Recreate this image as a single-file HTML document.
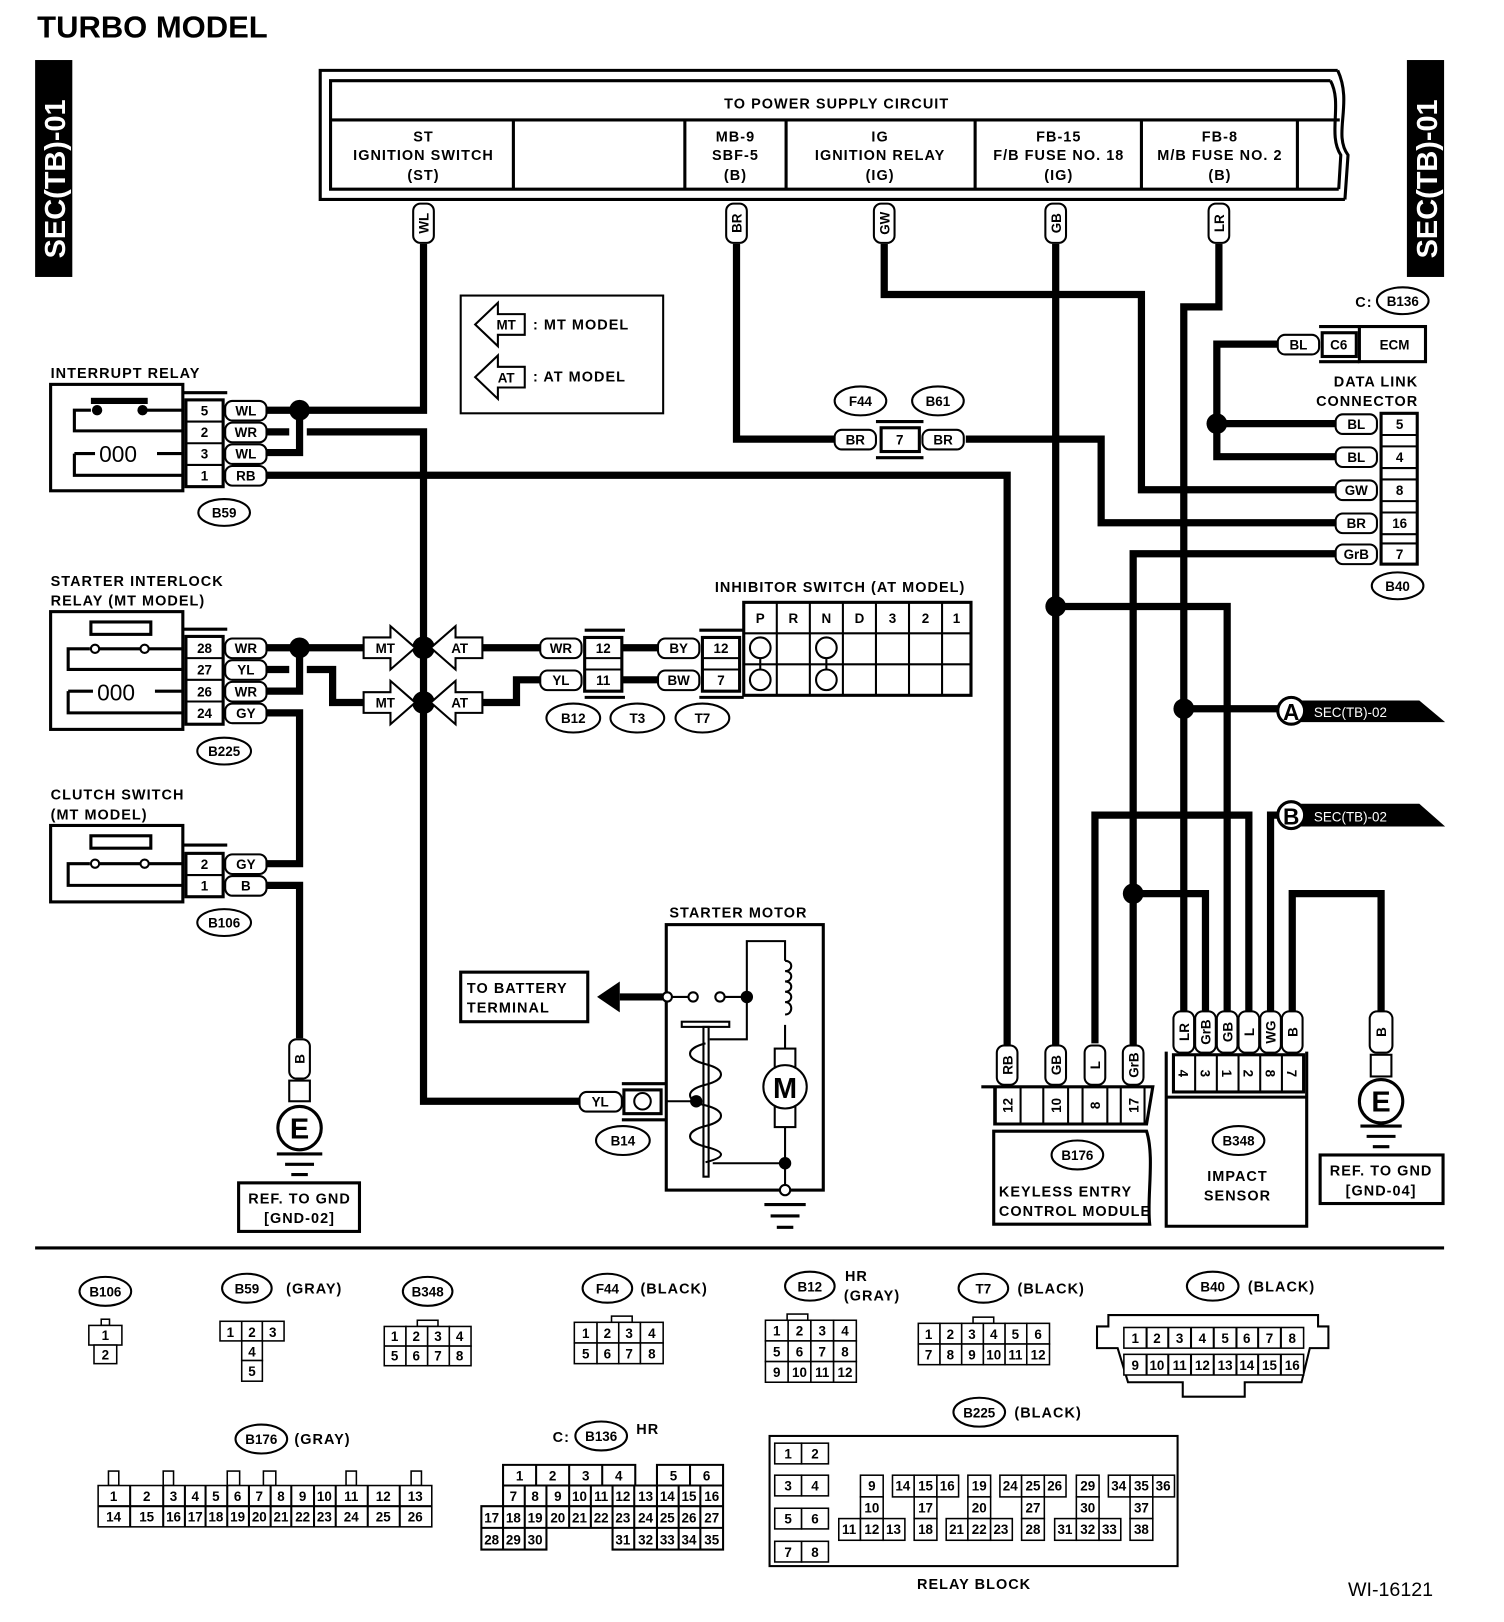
<!DOCTYPE html>
<html><head><meta charset="utf-8"><style>
html,body{margin:0;padding:0;background:#fff}
svg{display:block}
text{font-family:"Liberation Sans",sans-serif;font-weight:bold;fill:#000}
.t{font-size:14px;letter-spacing:1px}
.p{font-size:13px;text-anchor:middle}
.c{font-size:13px;text-anchor:middle;font-weight:normal}
.w{fill:none;stroke:#000;stroke-width:7;stroke-linejoin:miter}
.l{fill:none;stroke:#000;stroke-width:2}
.l3{fill:none;stroke:#000;stroke-width:3}
.pl{fill:#fff;stroke:#000;stroke-width:2}
.cell rect{fill:#fff;stroke:#000;stroke-width:1.5}
</style></head><body>
<svg width="1504" height="1622" viewBox="0 0 1456 1570" xmlns="http://www.w3.org/2000/svg">
<text x="36" y="36" style="font-size:30px">TURBO MODEL</text>
<rect x="34" y="58" width="36" height="210" fill="#000"/>
<text transform="translate(63,250) rotate(-90)" style="font-size:28px;fill:#fff">SEC(TB)-01</text>
<rect x="1362" y="58" width="36" height="210" fill="#000"/>
<text transform="translate(1391,250) rotate(-90)" style="font-size:28px;fill:#fff">SEC(TB)-01</text>

<path class="l3" d="M1295,68 H310 V193 H1302"/>
<path class="l3" d="M1295,68 C1310,100 1290,130 1305,150 L1302,193"/>
<path class="l3" d="M1288,78 H320 V183 H1296"/>
<path class="l3" d="M1288,78 C1300,100 1285,130 1298,150 L1296,183"/>
<line class="l3" x1="320" y1="116" x2="1297" y2="116"/>
<g class="l3"><line x1="497" y1="116" x2="497" y2="183"/><line x1="663" y1="116" x2="663" y2="183"/><line x1="761" y1="116" x2="761" y2="183"/><line x1="944" y1="116" x2="944" y2="183"/><line x1="1105" y1="116" x2="1105" y2="183"/><line x1="1256" y1="116" x2="1256" y2="183"/></g>
<g class="t" text-anchor="middle" style="font-size:14px">
<text x="810" y="105">TO POWER SUPPLY CIRCUIT</text>
<text x="410" y="137">ST</text><text x="410" y="155">IGNITION SWITCH</text><text x="410" y="174">(ST)</text>
<text x="712" y="137">MB-9</text><text x="712" y="155">SBF-5</text><text x="712" y="174">(B)</text>
<text x="852" y="137">IG</text><text x="852" y="155">IGNITION RELAY</text><text x="852" y="174">(IG)</text>
<text x="1025" y="137">FB-15</text><text x="1025" y="155">F/B FUSE NO. 18</text><text x="1025" y="174">(IG)</text>
<text x="1181" y="137">FB-8</text><text x="1181" y="155">M/B FUSE NO. 2</text><text x="1181" y="174">(B)</text>
</g>

<path class="w" d="M410,236 V397 H258"/>
<path class="w" d="M290,397 V438 H258"/>
<path class="w" d="M258,418 H280 M297,418 H410 V1066 H561"/>
<path class="w" d="M258,460 H975 V1013"/>
<path class="w" d="M713,236 V425 H810 M935,425 H1066 V506 H1293"/>
<path class="w" d="M856,236 V285 H1105 V474 H1293"/>
<path class="w" d="M1022,236 V1013 M1022,587 H1188 V979"/>
<path class="w" d="M1180,236 V297 H1146 V979 M1146,686 H1240"/>
<path class="w" d="M1237,333 H1178 V442 H1293 M1178,410 H1293"/>
<path class="w" d="M1293,536 H1097 V1013 M1097,865 H1167 V979"/>
<path class="w" d="M1060,1010 V789 H1209 V979"/>
<path class="w" d="M1230,979 V789 H1240"/>
<path class="w" d="M1251,979 V865 H1337 V979"/>
<path class="w" d="M258,627 H352 M290,627 V669 H258"/>
<path class="w" d="M258,648 H280 M297,648 H322 V680 H352"/>
<path class="w" d="M258,690 H290 V836 H258"/>
<path class="w" d="M258,857 H290 V1005"/>
<path class="w" d="M467,627 H523 M467,680 H500 V658 H523 M603,627 H637 M603,658 H637"/>
<g fill="#000">
<circle cx="290" cy="397" r="10"/><circle cx="290" cy="627" r="10"/>
<circle cx="410" cy="627" r="11"/><circle cx="410" cy="680" r="11"/>
<circle cx="1022" cy="587" r="10"/><circle cx="1146" cy="686" r="10"/>
<circle cx="1178" cy="410" r="10"/><circle cx="1097" cy="865" r="10"/>
</g>

<g>
<g transform="translate(410,216) rotate(-90)"><rect class="pl" x="-19" y="-10" width="38" height="20" rx="7"/><text class="p" y="5">WL</text></g>
<g transform="translate(713,216) rotate(-90)"><rect class="pl" x="-19" y="-10" width="38" height="20" rx="7"/><text class="p" y="5">BR</text></g>
<g transform="translate(856,216) rotate(-90)"><rect class="pl" x="-19" y="-10" width="38" height="20" rx="7"/><text class="p" y="5">GW</text></g>
<g transform="translate(1022,216) rotate(-90)"><rect class="pl" x="-19" y="-10" width="38" height="20" rx="7"/><text class="p" y="5">GB</text></g>
<g transform="translate(1180,216) rotate(-90)"><rect class="pl" x="-19" y="-10" width="38" height="20" rx="7"/><text class="p" y="5">LR</text></g>
</g>

<rect class="l" x="446" y="286" width="196" height="114"/>
<polygon class="pl" points="460,314 482,293 482,304 508,304 508,324 482,324 482,335"/><text class="p" x="490" y="319">MT</text>
<polygon class="pl" points="460,365 482,344 482,355 508,355 508,375 482,375 482,386"/><text class="p" x="490" y="370">AT</text>
<text class="t" x="516" y="319">: MT MODEL</text><text class="t" x="516" y="369">: AT MODEL</text>

<text class="t" x="49" y="366">INTERRUPT RELAY</text>
<rect class="l3" x="49" y="372" width="128" height="103"/>
<path class="l3" d="M177,380 H220"/>
<rect class="l3" x="180" y="387" width="36" height="84"/>
<g class="l"><line x1="180" y1="408" x2="216" y2="408"/><line x1="180" y1="429" x2="216" y2="429"/><line x1="180" y1="450" x2="216" y2="450"/></g>
<g class="p"><text x="198" y="402">5</text><text x="198" y="423">2</text><text x="198" y="444">3</text><text x="198" y="465">1</text></g>
<path class="l3" d="M177,417 H72 V397 H88 M90,388 H142 M140,397 H177"/>
<rect x="88" y="385" width="55" height="6" fill="#000"/><circle cx="94" cy="397" r="5"/><circle cx="138" cy="397" r="5"/>
<path class="l3" d="M177,439 H152 M72,439 V460 H177 M72,439 H92"/>
<text x="96" y="447" style="font-size:22px;font-weight:normal">000</text>
<g><rect class="pl" x="218" y="388" width="40" height="19" rx="7"/><text class="p" x="238" y="402">WL</text>
<rect class="pl" x="218" y="409" width="40" height="19" rx="7"/><text class="p" x="238" y="423">WR</text>
<rect class="pl" x="218" y="430" width="40" height="19" rx="7"/><text class="p" x="238" y="444">WL</text>
<rect class="pl" x="218" y="451" width="40" height="19" rx="7"/><text class="p" x="238" y="465">RB</text></g>
<ellipse class="l" cx="217" cy="496" rx="25" ry="13"/><text class="p" x="217" y="501">B59</text>

<text class="t" x="49" y="567">STARTER INTERLOCK</text><text class="t" x="49" y="586">RELAY (MT MODEL)</text>
<rect class="l3" x="49" y="592" width="128" height="114"/>
<path class="l3" d="M177,609 H220"/>
<rect class="l3" x="180" y="616" width="36" height="85"/>
<g class="l"><line x1="180" y1="637" x2="216" y2="637"/><line x1="180" y1="658" x2="216" y2="658"/><line x1="180" y1="679" x2="216" y2="679"/></g>
<g class="p"><text x="198" y="632">28</text><text x="198" y="653">27</text><text x="198" y="674">26</text><text x="198" y="695">24</text></g>
<rect class="l3" x="88" y="602" width="58" height="12"/>
<path class="l3" d="M177,628 H144 M136,628 H96 M87,628 H66 V648 H177"/>
<circle class="l" cx="92" cy="628" r="4"/><circle class="l" cx="140" cy="628" r="4"/>
<path class="l3" d="M177,669 H150 M66,669 V690 H177 M66,669 H90"/>
<text x="94" y="678" style="font-size:22px;font-weight:normal">000</text>
<g><rect class="pl" x="218" y="618" width="40" height="19" rx="7"/><text class="p" x="238" y="632">WR</text>
<rect class="pl" x="218" y="639" width="40" height="19" rx="7"/><text class="p" x="238" y="653">YL</text>
<rect class="pl" x="218" y="660" width="40" height="19" rx="7"/><text class="p" x="238" y="674">WR</text>
<rect class="pl" x="218" y="681" width="40" height="19" rx="7"/><text class="p" x="238" y="695">GY</text></g>
<ellipse class="l" cx="217" cy="727" rx="26" ry="13"/><text class="p" x="217" y="732">B225</text>

<text class="t" x="49" y="774">CLUTCH SWITCH</text><text class="t" x="49" y="793">(MT MODEL)</text>
<rect class="l3" x="49" y="799" width="128" height="74"/>
<path class="l3" d="M177,818 H220"/>
<rect class="l3" x="180" y="826" width="36" height="42"/><line class="l" x1="180" y1="847" x2="216" y2="847"/>
<g class="p"><text x="198" y="841">2</text><text x="198" y="862">1</text></g>
<rect class="l3" x="88" y="809" width="58" height="12"/>
<path class="l3" d="M177,836 H144 M136,836 H96 M87,836 H66 V857 H177"/>
<circle class="l" cx="92" cy="836" r="4"/><circle class="l" cx="140" cy="836" r="4"/>
<rect class="pl" x="218" y="827" width="40" height="19" rx="7"/><text class="p" x="238" y="841">GY</text>
<rect class="pl" x="218" y="848" width="40" height="19" rx="7"/><text class="p" x="238" y="862">B</text>
<ellipse class="l" cx="217" cy="893" rx="26" ry="13"/><text class="p" x="217" y="898">B106</text>

<g transform="translate(290,1025) rotate(-90)"><rect class="pl" x="-19" y="-10" width="38" height="20" rx="7"/><text class="p" y="5">B</text></g>
<rect class="pl" x="280" y="1046" width="20" height="20"/>
<circle cx="290" cy="1092" r="21" fill="#fff" stroke="#000" stroke-width="3"/>
<text x="290" y="1102" text-anchor="middle" style="font-size:28px">E</text>
<g class="l3"><line x1="268" y1="1117" x2="312" y2="1117"/><line x1="276" y1="1127" x2="304" y2="1127"/><line x1="282" y1="1137" x2="298" y2="1137"/></g>
<rect class="l3" x="231" y="1145" width="117" height="47"/>
<text class="t" x="290" y="1165" text-anchor="middle">REF. TO GND</text><text class="t" x="290" y="1184" text-anchor="middle">[GND-02]</text>

<g>
<polygon class="pl" points="352,617 378,617 378,606 402,627 378,648 378,637 352,637"/><text class="p" x="373" y="632">MT</text>
<polygon class="pl" points="467,617 441,617 441,606 417,627 441,648 441,637 467,637"/><text class="p" x="445" y="632">AT</text>
<polygon class="pl" points="352,670 378,670 378,659 402,680 378,701 378,690 352,690"/><text class="p" x="373" y="685">MT</text>
<polygon class="pl" points="467,670 441,670 441,659 417,680 441,701 441,690 467,690"/><text class="p" x="445" y="685">AT</text>
</g>

<rect class="pl" x="523" y="618" width="40" height="19" rx="7"/><text class="p" x="543" y="632">WR</text>
<rect class="pl" x="523" y="649" width="40" height="19" rx="7"/><text class="p" x="543" y="663">YL</text>
<rect class="l3" x="566" y="617" width="36" height="52"/><line class="l" x1="566" y1="637" x2="602" y2="637"/><line class="l" x1="566" y1="648" x2="602" y2="648"/>
<text class="p" x="584" y="632">12</text><text class="p" x="584" y="663">11</text>
<path class="l3" d="M566,610 H605 M566,675 H605"/>
<rect class="pl" x="637" y="618" width="40" height="19" rx="7"/><text class="p" x="657" y="632">BY</text>
<rect class="pl" x="637" y="649" width="40" height="19" rx="7"/><text class="p" x="657" y="663">BW</text>
<rect class="l3" x="680" y="617" width="36" height="52"/><line class="l" x1="680" y1="637" x2="716" y2="637"/><line class="l" x1="680" y1="648" x2="716" y2="648"/>
<text class="p" x="698" y="632">12</text><text class="p" x="698" y="663">7</text>
<path class="l3" d="M677,610 H720 M677,675 H720"/>
<ellipse class="l" cx="555" cy="695" rx="26" ry="14"/><text class="p" x="555" y="700">B12</text>
<ellipse class="l" cx="617" cy="695" rx="26" ry="14"/><text class="p" x="617" y="700">T3</text>
<ellipse class="l" cx="680" cy="695" rx="26" ry="14"/><text class="p" x="680" y="700">T7</text>

<text class="t" x="692" y="573">INHIBITOR SWITCH (AT MODEL)</text>
<rect class="l3" x="720" y="583" width="220" height="90"/>
<g class="l"><line x1="720" y1="613" x2="940" y2="613"/><line x1="720" y1="643" x2="940" y2="643"/>
<line x1="752" y1="583" x2="752" y2="673"/><line x1="784" y1="583" x2="784" y2="673"/><line x1="816" y1="583" x2="816" y2="673"/><line x1="848" y1="583" x2="848" y2="673"/><line x1="880" y1="583" x2="880" y2="673"/><line x1="912" y1="583" x2="912" y2="673"/></g>
<g class="p"><text x="736" y="603">P</text><text x="768" y="603">R</text><text x="800" y="603">N</text><text x="832" y="603">D</text><text x="864" y="603">3</text><text x="896" y="603">2</text><text x="926" y="603">1</text></g>
<g class="l"><circle cx="736" cy="627" r="10"/><circle cx="736" cy="658" r="10"/><circle cx="800" cy="627" r="10"/><circle cx="800" cy="658" r="10"/><line x1="736" y1="637" x2="736" y2="648"/><line x1="800" y1="637" x2="800" y2="648"/></g>

<ellipse class="l" cx="833" cy="388" rx="25" ry="14"/><text class="p" x="833" y="393">F44</text>
<ellipse class="l" cx="908" cy="388" rx="25" ry="14"/><text class="p" x="908" y="393">B61</text>
<rect class="pl" x="808" y="416" width="40" height="19" rx="7"/><text class="p" x="828" y="430">BR</text>
<rect class="l3" x="853" y="414" width="37" height="23"/><text class="p" x="871" y="430">7</text>
<path class="l3" d="M848,408 H894 M848,443 H894"/>
<rect class="pl" x="893" y="416" width="40" height="19" rx="7"/><text class="p" x="913" y="430">BR</text>

<text class="t" x="648" y="888">STARTER MOTOR</text>
<rect class="l3" x="645" y="895" width="152" height="257"/>
<rect class="l3" x="446" y="941" width="123" height="48"/>
<text class="t" x="452" y="961">TO BATTERY</text><text class="t" x="452" y="980">TERMINAL</text>
<path class="w" d="M600,965 H646"/><polygon points="578,965 600,950 600,980" fill="#000"/>
<path class="l" d="M646,965 H671 M697,965 H723 M723,965 V911 H760 V930 M760,992 V1015 M723,965 V1006 H687"/>
<path class="l" d="M760,930 c8,0 8,10 0,10 c8,0 8,10 0,10 c8,0 8,10 0,10 c8,0 8,10 0,10 c8,0 8,12 0,12"/>
<circle cx="646" cy="965" r="4.5" fill="#fff" stroke="#000" stroke-width="2"/><circle cx="671" cy="965" r="4.5" fill="#fff" stroke="#000" stroke-width="2"/><circle cx="697" cy="965" r="4.5" fill="#fff" stroke="#000" stroke-width="2"/><circle cx="723" cy="965" r="6" fill="#000"/>
<rect class="l" x="750" y="1015" width="20" height="76"/>
<circle cx="760" cy="1052" r="21" fill="#fff" stroke="#000" stroke-width="2"/><text x="760" y="1063" text-anchor="middle" style="font-size:28px">M</text>
<path class="l" d="M760,1091 V1152 M690,1126 H760"/>
<circle cx="760" cy="1126" r="6" fill="#000"/><circle cx="760" cy="1152" r="5" fill="#fff" stroke="#000" stroke-width="2"/>
<g class="l3"><line x1="740" y1="1166" x2="780" y2="1166"/><line x1="746" y1="1177" x2="774" y2="1177"/><line x1="752" y1="1188" x2="768" y2="1188"/></g>
<rect class="l" x="660" y="989" width="46" height="5"/><rect class="l" x="681" y="994" width="5" height="145"/>
<path class="l" d="M683,1010 c-20,5 -20,15 0,20 c20,5 20,15 0,20 c-20,5 -20,15 0,20 c20,5 20,15 0,20 c-20,5 -20,15 0,20 c20,5 20,10 0,15"/>
<path class="l" d="M645,1066 H674"/><circle cx="674" cy="1066" r="6" fill="#000"/>
<rect class="pl" x="561" y="1057" width="41" height="19" rx="7"/><text class="p" x="581" y="1071">YL</text>
<rect class="l3" x="604" y="1055" width="36" height="23"/><circle class="l" cx="622" cy="1066" r="8"/>
<path class="l3" d="M602,1049 H645 M602,1084 H645"/>
<ellipse class="l" cx="603" cy="1104" rx="26" ry="14"/><text class="p" x="603" y="1109">B14</text>

<text class="t" x="1312" y="297">C:</text>
<ellipse class="l" cx="1358" cy="291" rx="25" ry="13"/><text class="p" x="1358" y="296">B136</text>
<rect class="pl" x="1237" y="324" width="40" height="19" rx="7"/><text class="p" x="1257" y="338">BL</text>
<rect class="l3" x="1280" y="322" width="33" height="23"/><text class="p" x="1296" y="338">C6</text>
<rect class="l3" x="1316" y="316" width="64" height="34"/><text class="p" x="1350" y="338">ECM</text>
<path class="l3" d="M1277,316 H1316 M1277,350 H1316"/>
<text class="t" x="1373" y="374" text-anchor="end">DATA LINK</text><text class="t" x="1373" y="393" text-anchor="end">CONNECTOR</text>
<rect class="l3" x="1337" y="400" width="35" height="146"/>
<g class="l"><line x1="1337" y1="421" x2="1372" y2="421"/><line x1="1337" y1="432" x2="1372" y2="432"/><line x1="1337" y1="453" x2="1372" y2="453"/><line x1="1337" y1="464" x2="1372" y2="464"/><line x1="1337" y1="485" x2="1372" y2="485"/><line x1="1337" y1="496" x2="1372" y2="496"/><line x1="1337" y1="517" x2="1372" y2="517"/><line x1="1337" y1="526" x2="1372" y2="526"/></g>
<g class="p"><text x="1355" y="415">5</text><text x="1355" y="447">4</text><text x="1355" y="479">8</text><text x="1355" y="511">16</text><text x="1355" y="541">7</text></g>
<g><rect class="pl" x="1293" y="401" width="40" height="19" rx="7"/><text class="p" x="1313" y="415">BL</text>
<rect class="pl" x="1293" y="433" width="40" height="19" rx="7"/><text class="p" x="1313" y="447">BL</text>
<rect class="pl" x="1293" y="465" width="40" height="19" rx="7"/><text class="p" x="1313" y="479">GW</text>
<rect class="pl" x="1293" y="497" width="40" height="19" rx="7"/><text class="p" x="1313" y="511">BR</text>
<rect class="pl" x="1293" y="527" width="40" height="19" rx="7"/><text class="p" x="1313" y="541">GrB</text></g>
<ellipse class="l" cx="1353" cy="567" rx="25" ry="13"/><text class="p" x="1353" y="572">B40</text>

<polygon points="1255,678 1374,678 1399,699 1255,699" fill="#000"/>
<circle cx="1250" cy="688" r="13" fill="#fff" stroke="#000" stroke-width="3"/><text x="1250" y="697" text-anchor="middle" style="font-size:22px">A</text>
<text x="1272" y="694" style="font-size:13px;fill:#fff;font-weight:normal">SEC(TB)-02</text>
<polygon points="1255,778 1374,778 1399,800 1255,800" fill="#000"/>
<circle cx="1250" cy="789" r="13" fill="#fff" stroke="#000" stroke-width="3"/><text x="1250" y="798" text-anchor="middle" style="font-size:22px">B</text>
<text x="1272" y="795" style="font-size:13px;fill:#fff;font-weight:normal">SEC(TB)-02</text>

<g transform="translate(975,1031) rotate(-90)"><rect class="pl" x="-19" y="-10" width="38" height="20" rx="7"/><text class="p" y="5">RB</text></g>
<g transform="translate(1022,1031) rotate(-90)"><rect class="pl" x="-19" y="-10" width="38" height="20" rx="7"/><text class="p" y="5">GB</text></g>
<g transform="translate(1060,1031) rotate(-90)"><rect class="pl" x="-19" y="-10" width="38" height="20" rx="7"/><text class="p" y="5">L</text></g>
<g transform="translate(1097,1031) rotate(-90)"><rect class="pl" x="-19" y="-10" width="38" height="20" rx="7"/><text class="p" y="5">GrB</text></g>
<path class="l3" d="M950,1052 H1116 L1110,1088 H963 V1052"/>
<g class="l"><line x1="964" y1="1052" x2="964" y2="1088"/><line x1="988" y1="1052" x2="988" y2="1088"/><line x1="1010" y1="1052" x2="1010" y2="1088"/><line x1="1034" y1="1052" x2="1034" y2="1088"/><line x1="1048" y1="1052" x2="1048" y2="1088"/><line x1="1072" y1="1052" x2="1072" y2="1088"/><line x1="1085" y1="1052" x2="1085" y2="1088"/><line x1="1108" y1="1052" x2="1108" y2="1088"/></g>
<g class="p"><text transform="translate(980,1070) rotate(-90)">12</text><text transform="translate(1027,1070) rotate(-90)">10</text><text transform="translate(1065,1070) rotate(-90)">8</text><text transform="translate(1102,1070) rotate(-90)">17</text></g>
<path class="l3" d="M962,1095 H1110 C1118,1120 1110,1160 1113,1185 H962 Z"/>
<ellipse class="l" cx="1043" cy="1118" rx="25" ry="14"/><text class="p" x="1043" y="1123">B176</text>
<text class="t" x="967" y="1158">KEYLESS ENTRY</text><text class="t" x="967" y="1177">CONTROL MODULE</text>

<g>
<g transform="translate(1146,999) rotate(-90)"><rect class="pl" x="-20" y="-10" width="40" height="20" rx="7"/><text class="p" y="5">LR</text></g>
<g transform="translate(1167,999) rotate(-90)"><rect class="pl" x="-20" y="-10" width="40" height="20" rx="7"/><text class="p" y="5">GrB</text></g>
<g transform="translate(1188,999) rotate(-90)"><rect class="pl" x="-20" y="-10" width="40" height="20" rx="7"/><text class="p" y="5">GB</text></g>
<g transform="translate(1209,999) rotate(-90)"><rect class="pl" x="-20" y="-10" width="40" height="20" rx="7"/><text class="p" y="5">L</text></g>
<g transform="translate(1230,999) rotate(-90)"><rect class="pl" x="-20" y="-10" width="40" height="20" rx="7"/><text class="p" y="5">WG</text></g>
<g transform="translate(1251,999) rotate(-90)"><rect class="pl" x="-20" y="-10" width="40" height="20" rx="7"/><text class="p" y="5">B</text></g>
</g>
<rect class="l3" x="1136" y="1021" width="126" height="36"/>
<g class="l"><line x1="1157" y1="1021" x2="1157" y2="1057"/><line x1="1178" y1="1021" x2="1178" y2="1057"/><line x1="1199" y1="1021" x2="1199" y2="1057"/><line x1="1220" y1="1021" x2="1220" y2="1057"/><line x1="1241" y1="1021" x2="1241" y2="1057"/></g>
<g class="p"><text transform="translate(1146,1039) rotate(90)" y="5">4</text><text transform="translate(1167,1039) rotate(90)" y="5">3</text><text transform="translate(1188,1039) rotate(90)" y="5">1</text><text transform="translate(1209,1039) rotate(90)" y="5">2</text><text transform="translate(1230,1039) rotate(90)" y="5">8</text><text transform="translate(1251,1039) rotate(90)" y="5">7</text></g>
<path class="l3" d="M1129,1018 V1187 H1265 V1018 M1129,1062 H1265"/>
<ellipse class="l" cx="1199" cy="1104" rx="25" ry="14"/><text class="p" x="1199" y="1109">B348</text>
<text class="t" x="1198" y="1143" text-anchor="middle">IMPACT</text><text class="t" x="1198" y="1162" text-anchor="middle">SENSOR</text>

<g transform="translate(1337,999) rotate(-90)"><rect class="pl" x="-20" y="-11" width="40" height="22" rx="7"/><text class="p" y="5">B</text></g>
<rect class="pl" x="1327" y="1021" width="20" height="21"/>
<circle cx="1337" cy="1066" r="21" fill="#fff" stroke="#000" stroke-width="3"/><text x="1337" y="1076" text-anchor="middle" style="font-size:28px">E</text>
<g class="l3"><line x1="1317" y1="1090" x2="1357" y2="1090"/><line x1="1323" y1="1100" x2="1351" y2="1100"/><line x1="1329" y1="1110" x2="1345" y2="1110"/></g>
<rect class="l3" x="1278" y="1118" width="119" height="47"/>
<text class="t" x="1337" y="1138" text-anchor="middle">REF. TO GND</text><text class="t" x="1337" y="1157" text-anchor="middle">[GND-04]</text>

<line x1="34" y1="1208" x2="1398" y2="1208" stroke="#000" stroke-width="3"/>

<g class="l">
<ellipse cx="102" cy="1250" rx="25" ry="14"/><ellipse cx="239" cy="1247" rx="24" ry="14"/><ellipse cx="414" cy="1250" rx="24" ry="14"/><ellipse cx="588" cy="1247" rx="24" ry="14"/><ellipse cx="784" cy="1245" rx="24" ry="14"/><ellipse cx="952" cy="1247" rx="24" ry="14"/><ellipse cx="1174" cy="1245" rx="25" ry="14"/><ellipse cx="253" cy="1393" rx="25" ry="14"/><ellipse cx="582" cy="1390" rx="25" ry="14"/><ellipse cx="948" cy="1367" rx="25" ry="14"/>
</g>
<g class="p"><text x="102" y="1255">B106</text><text x="239" y="1252">B59</text><text x="414" y="1255">B348</text><text x="588" y="1252">F44</text><text x="784" y="1250">B12</text><text x="952" y="1252">T7</text><text x="1174" y="1250">B40</text><text x="253" y="1398">B176</text><text x="582" y="1395">B136</text><text x="948" y="1372">B225</text></g>
<g class="t" style="font-size:14px"><text x="277" y="1252">(GRAY)</text><text x="620" y="1252">(BLACK)</text><text x="818" y="1240">HR</text><text x="817" y="1259">(GRAY)</text><text x="985" y="1252">(BLACK)</text><text x="1208" y="1250">(BLACK)</text><text x="285" y="1398">(GRAY)</text><text x="616" y="1388">HR</text><text x="535" y="1396">C:</text><text x="982" y="1372">(BLACK)</text></g>

<g class="cell">
<rect x="98" y="1277" width="8" height="6"/><rect x="86" y="1283" width="32" height="19"/><rect x="91" y="1302" width="22" height="18"/>
<rect x="213" y="1279" width="21" height="19"/><rect x="234" y="1279" width="20" height="19"/><rect x="254" y="1279" width="21" height="19"/>
<rect x="234" y="1298" width="20" height="19"/><rect x="234" y="1317" width="20" height="20"/>
<rect x="404" y="1278" width="20" height="6"/>
<rect x="372" y="1284" width="21" height="19"/><rect x="393" y="1284" width="21" height="19"/><rect x="414" y="1284" width="21" height="19"/><rect x="435" y="1284" width="21" height="19"/>
<rect x="372" y="1303" width="21" height="19"/><rect x="393" y="1303" width="21" height="19"/><rect x="414" y="1303" width="21" height="19"/><rect x="435" y="1303" width="21" height="19"/>
<rect x="592" y="1274" width="20" height="6"/>
<rect x="556" y="1280" width="22" height="20"/><rect x="578" y="1280" width="21" height="20"/><rect x="599" y="1280" width="21" height="20"/><rect x="620" y="1280" width="22" height="20"/>
<rect x="556" y="1300" width="22" height="20"/><rect x="578" y="1300" width="21" height="20"/><rect x="599" y="1300" width="21" height="20"/><rect x="620" y="1300" width="22" height="20"/>
<rect x="762" y="1272" width="20" height="6"/>
<rect x="741" y="1278" width="22" height="20"/><rect x="763" y="1278" width="22" height="20"/><rect x="785" y="1278" width="22" height="20"/><rect x="807" y="1278" width="22" height="20"/>
<rect x="741" y="1298" width="22" height="20"/><rect x="763" y="1298" width="22" height="20"/><rect x="785" y="1298" width="22" height="20"/><rect x="807" y="1298" width="22" height="20"/>
<rect x="741" y="1318" width="22" height="20"/><rect x="763" y="1318" width="22" height="20"/><rect x="785" y="1318" width="22" height="20"/><rect x="807" y="1318" width="22" height="20"/>
<rect x="942" y="1275" width="20" height="6"/>
<rect x="889" y="1281" width="21" height="20"/><rect x="910" y="1281" width="21" height="20"/><rect x="931" y="1281" width="21" height="20"/><rect x="952" y="1281" width="21" height="20"/><rect x="973" y="1281" width="21" height="20"/><rect x="994" y="1281" width="22" height="20"/>
<rect x="889" y="1301" width="21" height="20"/><rect x="910" y="1301" width="21" height="20"/><rect x="931" y="1301" width="21" height="20"/><rect x="952" y="1301" width="21" height="20"/><rect x="973" y="1301" width="21" height="20"/><rect x="994" y="1301" width="22" height="20"/>
</g>
<path class="l" d="M1073,1273 H1276 V1284 H1286 V1305 H1268 L1260,1338 H1205 V1352 H1145 V1338 H1092 L1082,1305 H1062 V1284 H1073 Z"/>
<g class="cell">
<rect x="1088" y="1285" width="174" height="20"/><rect x="1088" y="1311" width="174" height="20"/>
</g>
<g class="l">
<line x1="1110" y1="1285" x2="1110" y2="1305"/><line x1="1131" y1="1285" x2="1131" y2="1305"/><line x1="1153" y1="1285" x2="1153" y2="1305"/><line x1="1175" y1="1285" x2="1175" y2="1305"/><line x1="1197" y1="1285" x2="1197" y2="1305"/><line x1="1218" y1="1285" x2="1218" y2="1305"/><line x1="1240" y1="1285" x2="1240" y2="1305"/>
<line x1="1110" y1="1311" x2="1110" y2="1331"/><line x1="1131" y1="1311" x2="1131" y2="1331"/><line x1="1153" y1="1311" x2="1153" y2="1331"/><line x1="1175" y1="1311" x2="1175" y2="1331"/><line x1="1197" y1="1311" x2="1197" y2="1331"/><line x1="1218" y1="1311" x2="1218" y2="1331"/><line x1="1240" y1="1311" x2="1240" y2="1331"/>
</g>
<g class="c">
<text x="102" y="1297">1</text><text x="102" y="1316">2</text>
<text x="223" y="1294">1</text><text x="244" y="1294">2</text><text x="264" y="1294">3</text><text x="244" y="1313">4</text><text x="244" y="1332">5</text>
<text x="382" y="1298">1</text><text x="403" y="1298">2</text><text x="424" y="1298">3</text><text x="445" y="1298">4</text><text x="382" y="1317">5</text><text x="403" y="1317">6</text><text x="424" y="1317">7</text><text x="445" y="1317">8</text>
<text x="567" y="1295">1</text><text x="588" y="1295">2</text><text x="609" y="1295">3</text><text x="631" y="1295">4</text><text x="567" y="1315">5</text><text x="588" y="1315">6</text><text x="609" y="1315">7</text><text x="631" y="1315">8</text>
<text x="752" y="1293">1</text><text x="774" y="1293">2</text><text x="796" y="1293">3</text><text x="818" y="1293">4</text><text x="752" y="1313">5</text><text x="774" y="1313">6</text><text x="796" y="1313">7</text><text x="818" y="1313">8</text><text x="752" y="1333">9</text><text x="774" y="1333">10</text><text x="796" y="1333">11</text><text x="818" y="1333">12</text>
<text x="899" y="1296">1</text><text x="920" y="1296">2</text><text x="941" y="1296">3</text><text x="962" y="1296">4</text><text x="983" y="1296">5</text><text x="1005" y="1296">6</text><text x="899" y="1316">7</text><text x="920" y="1316">8</text><text x="941" y="1316">9</text><text x="962" y="1316">10</text><text x="983" y="1316">11</text><text x="1005" y="1316">12</text>
<text x="1099" y="1300">1</text><text x="1120" y="1300">2</text><text x="1142" y="1300">3</text><text x="1164" y="1300">4</text><text x="1186" y="1300">5</text><text x="1207" y="1300">6</text><text x="1229" y="1300">7</text><text x="1251" y="1300">8</text>
<text x="1099" y="1326">9</text><text x="1120" y="1326">10</text><text x="1142" y="1326">11</text><text x="1164" y="1326">12</text><text x="1186" y="1326">13</text><text x="1207" y="1326">14</text><text x="1229" y="1326">15</text><text x="1251" y="1326">16</text>
</g>

<g class="cell">
<rect x="105" y="1424" width="10" height="14"/><rect x="158" y="1424" width="10" height="14"/><rect x="220" y="1424" width="12" height="14"/><rect x="255" y="1424" width="12" height="14"/><rect x="335" y="1424" width="10" height="14"/><rect x="398" y="1424" width="10" height="14"/>
<rect x="95" y="1438" width="323" height="40"/>
</g>
<g class="l"><line x1="95" y1="1458" x2="418" y2="1458"/>
<line x1="126" y1="1438" x2="126" y2="1478"/><line x1="158" y1="1438" x2="158" y2="1478"/><line x1="179" y1="1438" x2="179" y2="1478"/><line x1="199" y1="1438" x2="199" y2="1478"/><line x1="220" y1="1438" x2="220" y2="1478"/><line x1="241" y1="1438" x2="241" y2="1478"/><line x1="262" y1="1438" x2="262" y2="1478"/><line x1="282" y1="1438" x2="282" y2="1478"/><line x1="304" y1="1438" x2="304" y2="1478"/><line x1="325" y1="1438" x2="325" y2="1478"/><line x1="356" y1="1438" x2="356" y2="1478"/><line x1="387" y1="1438" x2="387" y2="1478"/></g>
<g class="c"><text x="110" y="1453">1</text><text x="142" y="1453">2</text><text x="168" y="1453">3</text><text x="189" y="1453">4</text><text x="209" y="1453">5</text><text x="230" y="1453">6</text><text x="251" y="1453">7</text><text x="272" y="1453">8</text><text x="293" y="1453">9</text><text x="314" y="1453">10</text><text x="340" y="1453">11</text><text x="371" y="1453">12</text><text x="402" y="1453">13</text>
<text x="110" y="1473">14</text><text x="142" y="1473">15</text><text x="168" y="1473">16</text><text x="189" y="1473">17</text><text x="209" y="1473">18</text><text x="230" y="1473">19</text><text x="251" y="1473">20</text><text x="272" y="1473">21</text><text x="293" y="1473">22</text><text x="314" y="1473">23</text><text x="340" y="1473">24</text><text x="371" y="1473">25</text><text x="402" y="1473">26</text></g>

<path class="l" d="M487,1418 H615 V1438 H487 Z M636,1418 H700 V1438 H636 Z M487,1438 H700 V1458 H487 Z M466,1458 H700 V1479 H466 Z M466,1479 H529 V1500 H466 Z M593,1479 H700 V1500 H593 Z"/>
<g class="l"><line x1="519" y1="1418" x2="519" y2="1438"/><line x1="551" y1="1418" x2="551" y2="1438"/><line x1="583" y1="1418" x2="583" y2="1438"/><line x1="668" y1="1418" x2="668" y2="1438"/>
<line x1="508" y1="1438" x2="508" y2="1458"/><line x1="529" y1="1438" x2="529" y2="1458"/><line x1="551" y1="1438" x2="551" y2="1458"/><line x1="572" y1="1438" x2="572" y2="1458"/><line x1="593" y1="1438" x2="593" y2="1458"/><line x1="614" y1="1438" x2="614" y2="1458"/><line x1="636" y1="1438" x2="636" y2="1458"/><line x1="657" y1="1438" x2="657" y2="1458"/><line x1="678" y1="1438" x2="678" y2="1458"/>
<line x1="487" y1="1458" x2="487" y2="1500"/><line x1="508" y1="1458" x2="508" y2="1500"/><line x1="529" y1="1458" x2="529" y2="1479"/><line x1="551" y1="1458" x2="551" y2="1479"/><line x1="572" y1="1458" x2="572" y2="1479"/><line x1="593" y1="1458" x2="593" y2="1479"/><line x1="614" y1="1458" x2="614" y2="1500"/><line x1="636" y1="1458" x2="636" y2="1500"/><line x1="657" y1="1458" x2="657" y2="1500"/><line x1="678" y1="1458" x2="678" y2="1500"/></g>
<g class="c"><text x="503" y="1433">1</text><text x="535" y="1433">2</text><text x="567" y="1433">3</text><text x="599" y="1433">4</text><text x="652" y="1433">5</text><text x="684" y="1433">6</text>
<text x="497" y="1453">7</text><text x="518" y="1453">8</text><text x="540" y="1453">9</text><text x="561" y="1453">10</text><text x="582" y="1453">11</text><text x="603" y="1453">12</text><text x="625" y="1453">13</text><text x="646" y="1453">14</text><text x="667" y="1453">15</text><text x="689" y="1453">16</text>
<text x="476" y="1474">17</text><text x="497" y="1474">18</text><text x="518" y="1474">19</text><text x="540" y="1474">20</text><text x="561" y="1474">21</text><text x="582" y="1474">22</text><text x="603" y="1474">23</text><text x="625" y="1474">24</text><text x="646" y="1474">25</text><text x="667" y="1474">26</text><text x="689" y="1474">27</text>
<text x="476" y="1495">28</text><text x="497" y="1495">29</text><text x="518" y="1495">30</text><text x="603" y="1495">31</text><text x="625" y="1495">32</text><text x="646" y="1495">33</text><text x="667" y="1495">34</text><text x="689" y="1495">35</text></g>

<rect class="l" x="745" y="1390" width="395" height="126"/>
<g class="cell">
<rect x="750" y="1397" width="26" height="20"/><rect x="776" y="1397" width="26" height="20"/>
<rect x="750" y="1428" width="26" height="20"/><rect x="776" y="1428" width="26" height="20"/>
<rect x="750" y="1460" width="26" height="20"/><rect x="776" y="1460" width="26" height="20"/>
<rect x="750" y="1492" width="26" height="20"/><rect x="776" y="1492" width="26" height="20"/>
<rect x="833" y="1428" width="22" height="21"/><rect x="833" y="1449" width="22" height="21"/><rect x="812" y="1470" width="21" height="21"/><rect x="833" y="1470" width="22" height="21"/><rect x="855" y="1470" width="21" height="21"/>
<rect x="864" y="1428" width="21" height="21"/><rect x="885" y="1428" width="22" height="21"/><rect x="907" y="1428" width="21" height="21"/><rect x="885" y="1449" width="22" height="21"/><rect x="885" y="1470" width="22" height="21"/>
<rect x="937" y="1428" width="22" height="21"/><rect x="937" y="1449" width="22" height="21"/><rect x="916" y="1470" width="21" height="21"/><rect x="937" y="1470" width="22" height="21"/><rect x="959" y="1470" width="21" height="21"/>
<rect x="968" y="1428" width="21" height="21"/><rect x="989" y="1428" width="22" height="21"/><rect x="1011" y="1428" width="21" height="21"/><rect x="989" y="1449" width="22" height="21"/><rect x="989" y="1470" width="22" height="21"/>
<rect x="1042" y="1428" width="22" height="21"/><rect x="1042" y="1449" width="22" height="21"/><rect x="1021" y="1470" width="21" height="21"/><rect x="1042" y="1470" width="22" height="21"/><rect x="1064" y="1470" width="21" height="21"/>
<rect x="1073" y="1428" width="21" height="21"/><rect x="1094" y="1428" width="22" height="21"/><rect x="1116" y="1428" width="21" height="21"/><rect x="1094" y="1449" width="22" height="21"/><rect x="1094" y="1470" width="22" height="21"/>
</g>
<g class="c"><text x="763" y="1412">1</text><text x="789" y="1412">2</text><text x="763" y="1443">3</text><text x="789" y="1443">4</text><text x="763" y="1475">5</text><text x="789" y="1475">6</text><text x="763" y="1507">7</text><text x="789" y="1507">8</text>
<text x="844" y="1443">9</text><text x="844" y="1464">10</text><text x="822" y="1485">11</text><text x="844" y="1485">12</text><text x="865" y="1485">13</text>
<text x="874" y="1443">14</text><text x="896" y="1443">15</text><text x="917" y="1443">16</text><text x="896" y="1464">17</text><text x="896" y="1485">18</text>
<text x="948" y="1443">19</text><text x="948" y="1464">20</text><text x="926" y="1485">21</text><text x="948" y="1485">22</text><text x="969" y="1485">23</text>
<text x="978" y="1443">24</text><text x="1000" y="1443">25</text><text x="1021" y="1443">26</text><text x="1000" y="1464">27</text><text x="1000" y="1485">28</text>
<text x="1053" y="1443">29</text><text x="1053" y="1464">30</text><text x="1031" y="1485">31</text><text x="1053" y="1485">32</text><text x="1074" y="1485">33</text>
<text x="1083" y="1443">34</text><text x="1105" y="1443">35</text><text x="1126" y="1443">36</text><text x="1105" y="1464">37</text><text x="1105" y="1485">38</text></g>
<text class="t" x="943" y="1538" text-anchor="middle">RELAY BLOCK</text>
<text x="1305" y="1545" style="font-size:19px;font-weight:normal">WI-16121</text>
</svg>
</body></html>
